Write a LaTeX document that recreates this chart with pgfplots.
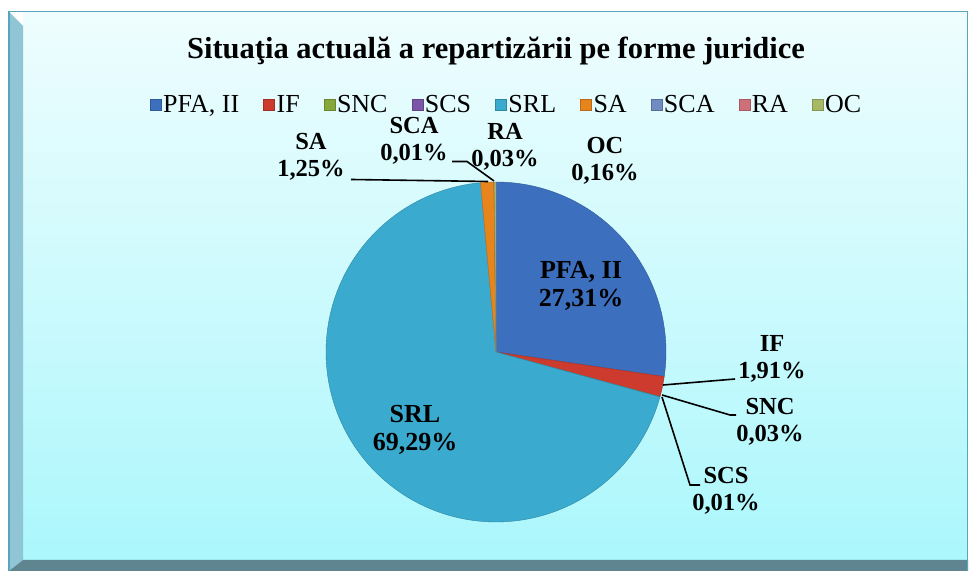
\documentclass[border=0pt]{standalone}
\usepackage{pgfplots}
\pgfplotsset{compat=1.18}
\usepackage{fontspec}
\setmainfont{Liberation Serif}

\definecolor{bgtop}{HTML}{EFFDFE}
\definecolor{bgbot}{HTML}{ABF7FC}
\definecolor{bevelL}{HTML}{8FC5D5}
\definecolor{bevelB}{HTML}{5E8590}
\definecolor{frame}{HTML}{5AA5BE}
\definecolor{cPFA}{HTML}{3C6FBE}
\definecolor{cIF}{HTML}{CC3B2E}
\definecolor{cSNC}{HTML}{86A83A}
\definecolor{cSCS}{HTML}{7A55A8}
\definecolor{cSRL}{HTML}{3AAACE}
\definecolor{cSA}{HTML}{E8841C}
\definecolor{cSCA}{HTML}{6F8BC0}
\definecolor{cRA}{HTML}{CF6F78}
\definecolor{cOC}{HTML}{A8B865}

% shares in percent (PFA II, IF, SNC, SCS, SRL, SA, SCA, RA, OC)
\pgfmathsetmacro\aA{90}
\pgfmathsetmacro\aB{\aA-3.6*27.31}
\pgfmathsetmacro\aC{\aB-3.6*1.91}
\pgfmathsetmacro\aD{\aC-3.6*0.03}
\pgfmathsetmacro\aE{\aD-3.6*0.01}
\pgfmathsetmacro\aF{\aE-3.6*69.29}
\pgfmathsetmacro\aG{\aF-3.6*1.25}
\pgfmathsetmacro\aH{\aG-3.6*0.01}
\pgfmathsetmacro\aI{\aH-3.6*0.03}
\pgfmathsetmacro\aJ{\aI-3.6*0.16}

\begin{document}
\begin{tikzpicture}[x=1pt,y=1pt]
\fill[white] (0,0) rectangle (970,571);
\shade[top color=bgtop, bottom color=bgbot] (23,11) rectangle (967,559);
\fill[bevelL] (9,559) -- (23,545) -- (23,11) -- (9,0) -- cycle;
\fill[bevelB] (9,0) -- (23,11) -- (968,11) -- (968,0) -- cycle;
\draw[frame, line width=1.2pt] (9,0) -- (9,559.5) -- (967.5,559.5) -- (967.5,0);
\begin{axis}[
  at={(0,0)}, anchor=south west,
  scale only axis, width=970pt, height=571pt,
  xmin=0, xmax=970, ymin=0, ymax=571,
  hide axis, clip=false, no markers,
  legend columns=9,
  legend style={draw=none, fill=none, at={(axis cs:506,466)}, anchor=center,
    font=\fontsize{26}{26}\selectfont, inner sep=0pt,
    nodes={inner sep=1pt},
    /tikz/every even column/.append style={column sep=23pt},
    /tikz/every odd column/.append style={column sep=1pt}},
  legend image code/.code={\path[#1] (0pt,-5.5pt) rectangle (11pt,5.5pt);},
]
\addplot[fill=cPFA, draw=cPFA!80!black, line width=0.4pt, domain=\aB:\aA, samples=90, variable=\t]
  ({496+170*cos(\t)},{219+170*sin(\t)}) -- (axis cs:496,219) -- cycle;
\addlegendentry{PFA, II}
\addplot[fill=cIF, draw=cIF!80!black, line width=0.4pt, domain=\aC:\aB, samples=10, variable=\t]
  ({496+170*cos(\t)},{219+170*sin(\t)}) -- (axis cs:496,219) -- cycle;
\addlegendentry{IF}
\addplot[fill=cSNC, draw=cSNC!80!black, line width=0.2pt, domain=\aD:\aC, samples=2, variable=\t]
  ({496+170*cos(\t)},{219+170*sin(\t)}) -- (axis cs:496,219) -- cycle;
\addlegendentry{SNC}
\addplot[fill=cSCS, draw=cSCS!80!black, line width=0.2pt, domain=\aE:\aD, samples=2, variable=\t]
  ({496+170*cos(\t)},{219+170*sin(\t)}) -- (axis cs:496,219) -- cycle;
\addlegendentry{SCS}
\addplot[fill=cSRL, draw=cSRL!80!black, line width=0.4pt, domain=\aF:\aE, samples=200, variable=\t]
  ({496+170*cos(\t)},{219+170*sin(\t)}) -- (axis cs:496,219) -- cycle;
\addlegendentry{SRL}
\addplot[fill=cSA, draw=cSA!80!black, line width=0.4pt, domain=\aG:\aF, samples=8, variable=\t]
  ({496+170*cos(\t)},{219+170*sin(\t)}) -- (axis cs:496,219) -- cycle;
\addlegendentry{SA}
\addplot[fill=cSCA, draw=cSCA!80!black, line width=0.2pt, domain=\aH:\aG, samples=2, variable=\t]
  ({496+170*cos(\t)},{219+170*sin(\t)}) -- (axis cs:496,219) -- cycle;
\addlegendentry{SCA}
\addplot[fill=cRA, draw=cRA!80!black, line width=0.2pt, domain=\aI:\aH, samples=2, variable=\t]
  ({496+170*cos(\t)},{219+170*sin(\t)}) -- (axis cs:496,219) -- cycle;
\addlegendentry{RA}
\addplot[fill=cOC, draw=cOC!80!black, line width=0.2pt, domain=\aJ:\aI, samples=3, variable=\t]
  ({496+170*cos(\t)},{219+170*sin(\t)}) -- (axis cs:496,219) -- cycle;
\addlegendentry{OC}

% leader lines
\tikzset{lead/.style={black, line width=1.6pt}}
\draw[lead] (axis cs:351,391.5) -- (axis cs:488,389.5);
\draw[lead] (axis cs:452,409.5) -- (axis cs:467,409.5) -- (axis cs:494,390);
\draw[lead] (axis cs:663,186) -- (axis cs:735,192);
\draw[lead] (axis cs:662,176) -- (axis cs:730,156) -- (axis cs:736,156);
\draw[lead] (axis cs:662,174) -- (axis cs:690,86) -- (axis cs:700,86);

% title
\node[font=\fontsize{30.5}{33}\selectfont\bfseries] at (axis cs:496,520) {Situaţia actuală a repartizării pe forme juridice};

% data labels
\tikzset{lab/.style={align=center, inner sep=0pt, font=\fontsize{24.5}{27}\selectfont\bfseries},
         labin/.style={align=center, inner sep=0pt, font=\fontsize{26}{28}\selectfont\bfseries}}
\node[labin] at (axis cs:581,285) {PFA, II\\27,31\%};
\node[labin] at (axis cs:415,141) {SRL\\69,29\%};
\node[lab] at (axis cs:772,212) {IF\\1,91\%};
\node[lab] at (axis cs:770,149) {SNC\\0,03\%};
\node[lab] at (axis cs:726,80) {SCS\\0,01\%};
\node[lab] at (axis cs:311,414) {SA\\1,25\%};
\node[lab] at (axis cs:414,430) {SCA\\0,01\%};
\node[lab] at (axis cs:505,424) {RA\\0,03\%};
\node[lab] at (axis cs:605,410) {OC\\0,16\%};
\end{axis}
\end{tikzpicture}
\end{document}
